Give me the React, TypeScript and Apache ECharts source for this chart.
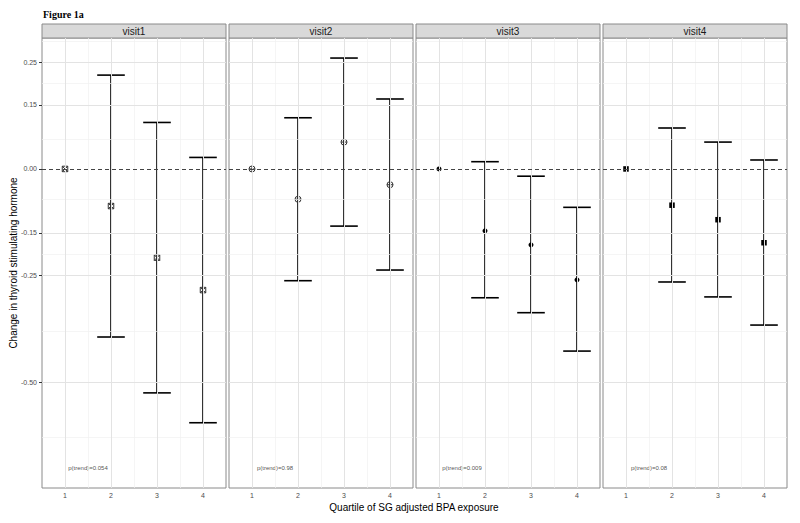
import React, { useEffect, useRef } from "react";
import * as echarts from "echarts";

// ---- data ----
const quartiles = [1, 2, 3, 4];
const visits = ["visit1", "visit2", "visit3", "visit4"];
const visit1Est = [0, -0.087, -0.208, -0.284];
const visit1Low = [null, -0.394, -0.525, -0.595];
const visit1High = [null, 0.22, 0.109, 0.027];
const visit2Est = [0, -0.071, 0.063, -0.037];
const visit2Low = [null, -0.262, -0.134, -0.237];
const visit2High = [null, 0.12, 0.26, 0.164];
const visit3Est = [0, -0.145, -0.178, -0.26];
const visit3Low = [null, -0.302, -0.337, -0.427];
const visit3High = [null, 0.017, -0.017, -0.09];
const visit4Est = [0, -0.085, -0.119, -0.173];
const visit4Low = [null, -0.265, -0.3, -0.366];
const visit4High = [null, 0.096, 0.063, 0.021];
const pTrend = ["p(trend)=0.054", "p(trend)=0.98", "p(trend)=0.009", "p(trend)=0.08"];
const yTicks = [-0.5, -0.25, -0.15, 0, 0.15, 0.25];
const yMinor = [-0.625, -0.375, -0.2, -0.075, 0.075, 0.2, 0.3];
const xMinor = [1.5, 2.5, 3.5];

const estAll = [visit1Est, visit2Est, visit3Est, visit4Est];
const lowAll = [visit1Low, visit2Low, visit3Low, visit4Low];
const highAll = [visit1High, visit2High, visit3High, visit4High];

const FONT = "'Liberation Sans', Arial, sans-serif";
const Y_MIN = -0.748;
const Y_MAX = 0.307;
const lefts = [42, 229, 416, 603];
const PW = 184;
const TOP = 38;
const PH = 450;
const ANN_X = 1.5;
const ANN_Y = -0.7;

const markers = [
  { symbol: "path://M0 0H10V10H0Z M0 0L10 10 M10 0L0 10", size: 5.5, color: "rgba(0,0,0,0)", border: "#333", bw: 1 },
  { symbol: "path://M10 5A5 5 0 1 1 0 5A5 5 0 1 1 10 5Z M5 0V10 M0 5H10", size: 6, color: "rgba(0,0,0,0)", border: "#333", bw: 1 },
  { symbol: "circle", size: 5, color: "#000", border: "#000", bw: 0 },
  { symbol: "rect", size: 5.5, color: "#000", border: "#000", bw: 0 },
];

export default function App() {
  const ref = useRef<HTMLDivElement>(null);
  useEffect(() => {
    if (!ref.current) return;
    const chart = echarts.init(ref.current, null, { renderer: "svg" });

    const grids = lefts.map((l) => ({
      left: l, top: TOP, width: PW, height: PH,
      show: true, borderColor: "#8a8a8a", borderWidth: 1, backgroundColor: "#fff",
    }));
    const xAxes = lefts.map((_, i) => ({
      type: "value", gridIndex: i, min: 0.5, max: 4.5,
      axisLine: { show: false },
      splitLine: { show: false },
      axisTick: { show: true, customValues: quartiles, length: 3, lineStyle: { color: "#333" } },
      axisLabel: { show: true, customValues: quartiles, color: "#4d4d4d", fontSize: 7, fontFamily: FONT, margin: 4 },
    }));
    const yAxes = lefts.map((_, i) => ({
      type: "value", gridIndex: i, min: Y_MIN, max: Y_MAX,
      axisLine: { show: false },
      splitLine: { show: false },
      axisTick: { show: i === 0, customValues: yTicks, length: 3, lineStyle: { color: "#333" } },
      axisLabel: {
        show: i === 0, customValues: yTicks, color: "#4d4d4d", fontSize: 7, fontFamily: FONT, margin: 5,
        formatter: (v: number) => v.toFixed(2),
      },
    }));

    const series: any[] = [];
    lefts.forEach((_, i) => {
      const majorStyle = { color: "#e3e3e3", width: 1, type: "solid" };
      const minorStyle = { color: "#f1f1f1", width: 0.7, type: "solid" };
      const gridLines: any[] = [];
      yMinor.forEach((v) => gridLines.push({ yAxis: v, lineStyle: minorStyle }));
      xMinor.forEach((v) => gridLines.push({ xAxis: v, lineStyle: minorStyle }));
      yTicks.filter((v) => v !== 0).forEach((v) => gridLines.push({ yAxis: v, lineStyle: majorStyle }));
      quartiles.forEach((v) => gridLines.push({ xAxis: v, lineStyle: majorStyle }));
      gridLines.push({ yAxis: 0, lineStyle: { color: "#444", width: 1, type: [4, 3] } });

      series.push({
        type: "scatter", xAxisIndex: i, yAxisIndex: i, z: 1, symbolSize: 0, silent: true,
        data: [[ANN_X, ANN_Y]],
        label: { show: true, formatter: pTrend[i], position: "inside", color: "#222", fontSize: 6, fontFamily: FONT },
        markLine: { silent: true, symbol: ["none", "none"], label: { show: false }, animation: false, data: gridLines },
      });

      const bars = quartiles
        .map((q, k) => [q, lowAll[i][k], highAll[i][k]])
        .filter((d) => d[1] !== null && d[2] !== null);
      series.push({
        type: "custom", xAxisIndex: i, yAxisIndex: i, z: 3, silent: true,
        encode: { x: 0, y: [1, 2] },
        data: bars,
        renderItem: (params: any, api: any) => {
          const x = api.value(0);
          const lo = api.value(1);
          const hi = api.value(2);
          const t = api.coord([x, hi]);
          const b = api.coord([x, lo]);
          const l = api.coord([x - 0.3, hi]);
          const r = api.coord([x + 0.3, hi]);
          const st = { stroke: "#000", lineWidth: 1.6 };
          return {
            type: "group",
            children: [
              { type: "line", shape: { x1: t[0], y1: t[1], x2: b[0], y2: b[1] }, style: st },
              { type: "line", shape: { x1: l[0], y1: t[1], x2: r[0], y2: t[1] }, style: st },
              { type: "line", shape: { x1: l[0], y1: b[1], x2: r[0], y2: b[1] }, style: st },
            ],
          };
        },
      });

      const m = markers[i];
      series.push({
        type: "scatter", xAxisIndex: i, yAxisIndex: i, z: 4, silent: true,
        symbol: m.symbol, symbolSize: m.size,
        itemStyle: { color: m.color, borderColor: m.border, borderWidth: m.bw, opacity: 1 },
        data: quartiles.map((q, k) => [q, estAll[i][k]]),
      });
    });

    const graphics: any[] = [
      {
        type: "text", left: 43, top: 9,
        style: { text: "Figure 1a", font: "bold 10px 'Liberation Serif', 'Times New Roman', serif", fill: "#000" },
      },
      {
        type: "text", x: 414, y: 507,
        style: { text: "Quartile of SG adjusted BPA exposure", font: `10px ${FONT}`, fill: "#000", align: "center", verticalAlign: "middle" },
      },
      {
        type: "text", x: 13, y: 263, rotation: Math.PI / 2,
        style: { text: "Change in thyroid stimulating hormone", font: `10px ${FONT}`, fill: "#000", align: "center", verticalAlign: "middle" },
      },
    ];
    lefts.forEach((l, i) => {
      graphics.push({
        type: "rect", shape: { x: l, y: 24, width: PW, height: 14 },
        style: { fill: "#d9d9d9", stroke: "#8a8a8a", lineWidth: 1 },
      });
      graphics.push({
        type: "text", x: l + PW / 2, y: 31.5,
        style: { text: visits[i], font: `10px ${FONT}`, fill: "#1a1a1a", align: "center", verticalAlign: "middle" },
      });
    });

    chart.setOption({
      animation: false,
      backgroundColor: "#fff",
      grid: grids,
      xAxis: xAxes,
      yAxis: yAxes,
      series,
      graphic: graphics,
    });
    return () => chart.dispose();
  }, []);
  return <div ref={ref} style={{ position: "fixed", left: 0, top: 0, width: 800, height: 523 }} />;
}
